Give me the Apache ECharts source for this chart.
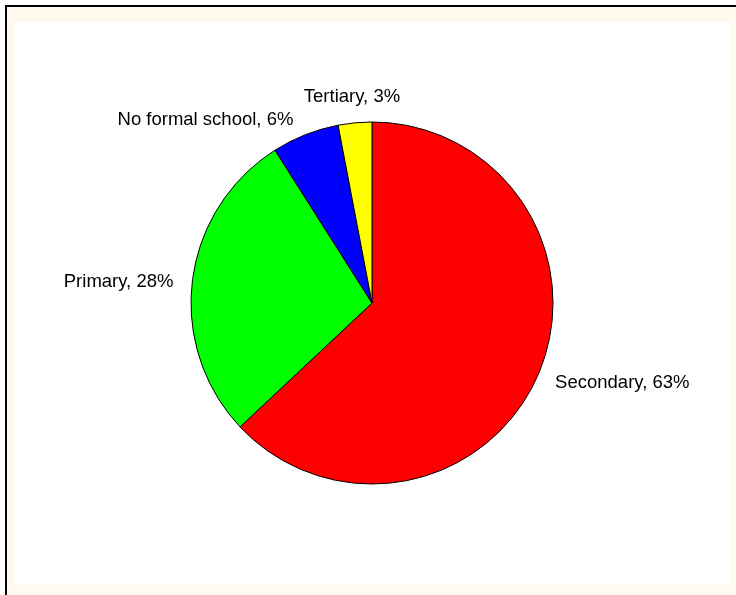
<!DOCTYPE html>
<html>
<head>
<meta charset="utf-8">
<script src="https://cdn.jsdelivr.net/npm/echarts@6/dist/echarts.min.js"></script>
<style>
  html, body { margin: 0; padding: 0; background: #ffffff; }
  #frame { position: absolute; left: 0; top: 0; width: 736px; height: 595px; background: #ffffff; }
  #border { position: absolute; left: 5px; top: 5px; right: 0; bottom: 0;
            border-left: 2px solid #000; border-top: 2px solid #000; background: #FFF9EE; }
  #plot { position: absolute; left: 14px; top: 22px; width: 717px; height: 563px; background: #ffffff; }
  #chart { position: absolute; left: 0; top: 0; width: 736px; height: 595px; }
</style>
</head>
<body>
<div id="frame"><div id="border"></div><div id="plot"></div></div>
<div id="chart"></div>
<script>
// Highest education level attained (share of respondents, %)
var categories = ['Secondary', 'Primary', 'No formal school', 'Tertiary'];
var shares = [63, 28, 6, 3];
var sliceColors = ['#FF0000', '#00FF00', '#0000FF', '#FFFF00'];

// Pie geometry (px)
var CX = 372, CY = 303, R = 181;
// Label placement relative to the rim point at each slice's mid-angle
var labelOffsets = [[17, 8], [-19, 2], [-12, -15], [-3, -26]];
var labelAligns = ['left', 'right', 'right', 'center'];

var total = shares.reduce(function (a, b) { return a + b; }, 0);
function midAngle(i) {
  var before = 0;
  for (var k = 0; k < i; k++) before += shares[k];
  var frac = (before + shares[i] / 2) / total;
  // clockwise from 12 o'clock
  return Math.PI / 2 - frac * 2 * Math.PI;
}

var chart = echarts.init(document.getElementById('chart'), null, { renderer: 'canvas' });
chart.setOption({
  backgroundColor: 'transparent',
  animation: false,
  series: [{
    type: 'pie',
    center: [CX, CY],
    radius: [0, R],
    startAngle: 90,
    clockwise: true,
    avoidLabelOverlap: false,
    itemStyle: { borderColor: '#000000', borderWidth: 1 },
    label: {
      show: true,
      position: 'outside',
      color: '#000000',
      fontFamily: 'Liberation Sans, Arial, sans-serif',
      fontSize: 18.5,
      formatter: function (p) { return p.name + ', ' + p.value + '%'; }
    },
    labelLine: { show: false },
    labelLayout: function (params) {
      var i = params.dataIndex;
      var a = midAngle(i);
      var x = CX + R * Math.cos(a) + labelOffsets[i][0];
      var y = CY - R * Math.sin(a) + labelOffsets[i][1];
      return { x: x, y: y, align: labelAligns[i], verticalAlign: 'middle' };
    },
    emphasis: { disabled: true },
    data: categories.map(function (c, i) {
      return { name: c, value: shares[i], itemStyle: { color: sliceColors[i] } };
    })
  }]
});
</script>
</body>
</html>
